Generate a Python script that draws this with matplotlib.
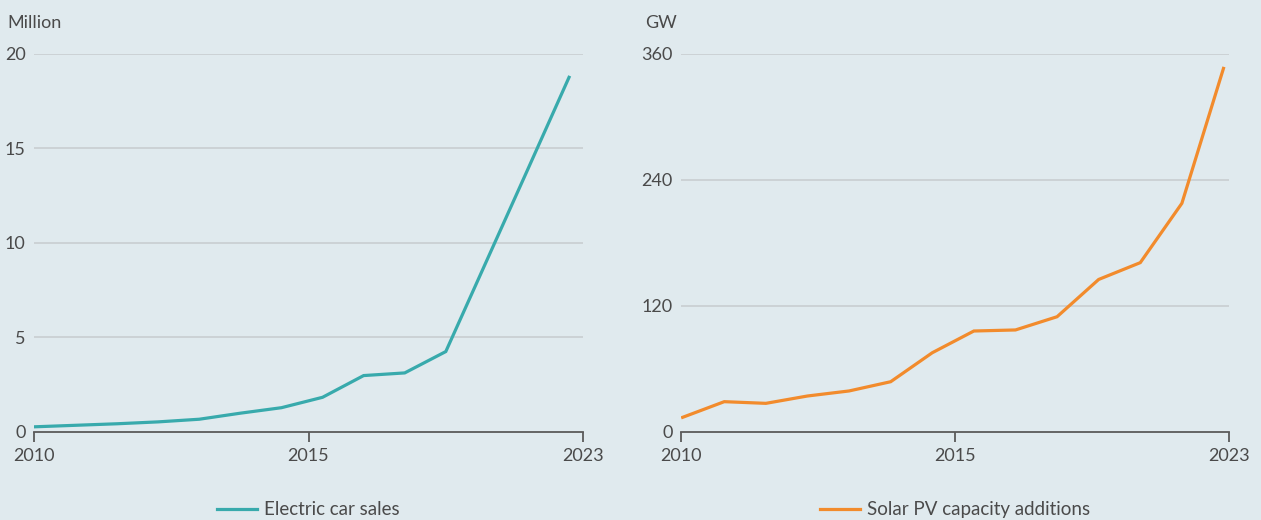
import matplotlib.pyplot as plt
from matplotlib.lines import Line2D

plt.rcParams['font.family'] = ['Lato', 'DejaVu Sans']

years = list(range(2010, 2024))
ev_sales = [0.26, 0.34, 0.42, 0.52, 0.66, 0.98, 1.27, 1.82, 2.97, 3.11, 4.24, 9.07, 13.9, 18.75]
solar_pv = [13.7, 28.6, 27.0, 34.0, 38.8, 47.6, 75.2, 95.9, 96.9, 109.5, 145.0, 161.0, 217.5, 346.0]
tick_labels = ['2010', '2015', '2023']

bg = '#e0eaee'
text_col = '#4a4a4a'
grid_col = '#c6cbce'
axis_col = '#5a5a5a'
W, H = 1261, 520

fig = plt.figure(figsize=(W / 100, H / 100), dpi=100, facecolor=bg)


def make_panel(left_px, right_px, values, color, unit, yticks, label, xlo, xhi):
    bottom_px, top_px = 431.7, 53.7
    ax = fig.add_axes([left_px / W, (H - bottom_px) / H,
                       (right_px - left_px) / W, (bottom_px - top_px) / H])
    ax.set_facecolor(bg)
    idx = list(range(len(years)))
    ax.plot(idx, values, color=color, lw=2.3, solid_joinstyle='miter', zorder=3)
    ax.set_xlim(xlo, xhi)
    ax.set_ylim(0, yticks[-1])
    ax.set_xticks([xlo, (xlo + xhi) / 2, xhi])
    ax.set_xticklabels(tick_labels)
    ax.set_yticks(yticks)
    ax.set_yticklabels([str(v) for v in yticks])
    for v in yticks[1:]:
        ax.axhline(v, color=grid_col, lw=1.1, zorder=1)
    for s in ['top', 'right', 'left']:
        ax.spines[s].set_visible(False)
    ax.spines['bottom'].set_color(axis_col)
    ax.spines['bottom'].set_linewidth(1.3)
    ax.spines['bottom'].set_zorder(4)
    ax.tick_params(axis='x', length=7, width=1.3, color=axis_col, pad=5,
                   labelsize=13, labelcolor=text_col)
    ax.tick_params(axis='y', length=0, pad=6, labelsize=13, labelcolor=text_col)
    ax.text(-0.048 if unit == 'Million' else -0.065, 1.082, unit, transform=ax.transAxes,
            fontsize=13, color=text_col, ha='left', va='center')
    handle = Line2D([], [], color=color, lw=2.3)
    leg = ax.legend([handle], [label], loc='center', bbox_to_anchor=(0.5, -0.206),
                    frameon=False, fontsize=13.5, handlelength=2.1, handletextpad=0.4)
    for t in leg.get_texts():
        t.set_color(text_col)
    return ax


make_panel(34, 583, ev_sales, '#38aaac', 'Million', [0, 5, 10, 15, 20],
           'Electric car sales', -0.024, 13.34)
make_panel(681, 1229.3, solar_pv, '#f28b2c', 'GW', [0, 120, 240, 360],
           'Solar PV capacity additions', -0.04, 13.14)

fig.savefig('out.png', dpi=100, facecolor=bg)
